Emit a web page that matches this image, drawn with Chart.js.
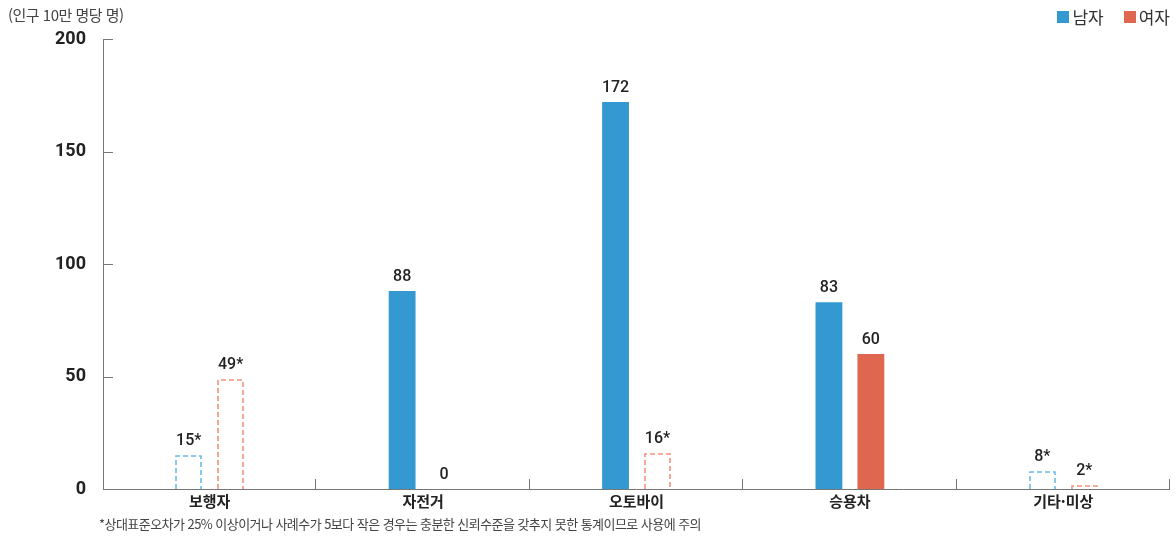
<!DOCTYPE html>
<html lang="ko">
<head>
<meta charset="utf-8">
<script src="https://cdn.jsdelivr.net/npm/chart.js@4/dist/chart.umd.min.js"></script>
<style>
  html, body { margin: 0; padding: 0; background: #fff; }
  body { width: 1176px; height: 536px; position: relative; overflow: hidden;
         font-family: "Noto Sans CJK KR", "Noto Sans", sans-serif; color: #333; }
  #wrap { position: absolute; left: 0; top: 0; width: 1176px; height: 536px; }
  .unit { position: absolute; left: 8px; top: 4px; font-size: 15px; color: #444; letter-spacing: -0.5px; }
  .legend { position: absolute; right: 6px; top: 4px; font-size: 17px; color: #333; display: flex; gap: 20px; }
  .legend span { display: inline-flex; align-items: center; }
  .legend i { display: inline-block; width: 12px; height: 12px; margin-right: 3px; }
  .note { position: absolute; left: 99px; top: 514px; font-size: 13px; color: #444; letter-spacing: -0.55px; }
</style>
</head>
<body>
<div id="wrap"><canvas id="myChart" width="1176" height="536"></canvas></div>
<div class="unit">(인구 10만 명당 명)</div>
<div class="legend">
  <span><i style="background:#3399d0"></i>남자</span>
  <span><i style="background:#e0674f"></i>여자</span>
</div>
<div class="note">*상대표준오차가 25% 이상이거나 사례수가 5보다 작은 경우는 충분한 신뢰수준을 갖추지 못한 통계이므로 사용에 주의</div>
<script>
// --- data ---
const categories = ['보행자', '자전거', '오토바이', '승용차', '기타·미상'];
const maleValues = [15, 88, 172, 83, 8];
const femaleValues = [49, 0, 16, 60, 2];
const maleLabels = ['15*', '88', '172', '83', '8*'];
const femaleLabels = ['49*', '0', '16*', '60', '2*'];
const yTicks = [0, 50, 100, 150, 200];

const BLUE = '#3399d0', RED = '#e0674f';
const BLUE_LIGHT = '#6bbbe8', RED_LIGHT = '#f0937f';

// starred values are drawn as dashed outlines only
const isStar = lbl => lbl.endsWith('*');

// dashed outlines + value labels + custom axis ticks
const decorPlugin = {
    id: 'decor',
    afterDatasetsDraw(chart) {
        const ctx = chart.ctx;
        const { left, right, bottom, top } = chart.chartArea;
        const y = chart.scales.y;

        ctx.save();
        chart.data.datasets.forEach((ds, di) => {
            const meta = chart.getDatasetMeta(di);
            meta.data.forEach((bar, i) => {
                const lbl = ds.valueLabels[i];
                const p = bar.getProps(['x', 'y', 'base', 'width'], true);
                if (isStar(lbl)) {
                    ctx.setLineDash([5, 3]);
                    ctx.lineWidth = 1.6;
                    ctx.strokeStyle = ds.dashColor;
                    const l = Math.round(p.x - p.width / 2) + 1;
                    const r = Math.round(p.x + p.width / 2) - 1;
                    const t = Math.round(p.y) + 1;
                    ctx.beginPath();
                    ctx.moveTo(l, p.base);
                    ctx.lineTo(l, t);
                    ctx.lineTo(r, t);
                    ctx.lineTo(r, p.base);
                    ctx.stroke();
                    ctx.setLineDash([]);
                }
                ctx.fillStyle = '#222';
                ctx.font = '500 16px Roboto, "Noto Sans", sans-serif';
                ctx.textAlign = 'center';
                ctx.textBaseline = 'bottom';
                ctx.fillText(lbl, p.x, p.y - 6);
            });
        });

        // axis lines
        ctx.strokeStyle = '#777';
        ctx.lineWidth = 1;
        ctx.beginPath();
        ctx.moveTo(left + 0.5, top);
        ctx.lineTo(left + 0.5, bottom + 0.5);
        ctx.lineTo(right, bottom + 0.5);
        ctx.stroke();

        // y ticks pointing into the plot
        ctx.beginPath();
        yTicks.forEach(v => {
            const py = Math.round(y.getPixelForValue(v)) + 0.5;
            ctx.moveTo(left, py);
            ctx.lineTo(left + 10, py);
        });
        // x ticks at category boundaries, pointing up
        const step = (right - left) / categories.length;
        for (let i = 1; i <= categories.length; i++) {
            const px = Math.round(left + step * i) - 0.5;
            ctx.moveTo(px, bottom);
            ctx.lineTo(px, bottom - 10);
        }
        ctx.stroke();
        ctx.restore();
    }
};

new Chart(document.getElementById('myChart'), {
    type: 'bar',
    data: {
        labels: categories,
        datasets: [
            {
                label: '남자',
                data: maleValues,
                valueLabels: maleLabels,
                dashColor: BLUE_LIGHT,
                backgroundColor: maleLabels.map(l => isStar(l) ? 'rgba(0,0,0,0)' : BLUE),
                borderWidth: 0,
                categoryPercentage: 0.393,
                barPercentage: 0.64
            },
            {
                label: '여자',
                data: femaleValues,
                valueLabels: femaleLabels,
                dashColor: RED_LIGHT,
                backgroundColor: femaleLabels.map(l => isStar(l) ? 'rgba(0,0,0,0)' : RED),
                borderWidth: 0,
                categoryPercentage: 0.393,
                barPercentage: 0.64
            }
        ]
    },
    options: {
        responsive: false,
        animation: false,
        layout: { padding: { top: 39, right: 6, bottom: 0, left: 0 } },
        scales: {
            x: {
                grid: { display: false, drawTicks: false },
                border: { display: false },
                ticks: {
                    color: '#222',
                    padding: 3,
                    font: { family: '"Noto Sans CJK KR", sans-serif', size: 15, weight: 'bold' }
                },
                afterFit(scale) { scale.height = 47; }
            },
            y: {
                min: 0,
                max: 200,
                afterBuildTicks(scale) { scale.ticks = yTicks.map(v => ({ value: v })); },
                grid: { display: false, drawTicks: false },
                border: { display: false },
                ticks: {
                    color: '#222',
                    padding: 17,
                    font: { family: 'Roboto, "Noto Sans", sans-serif', size: 18, weight: 'bold' }
                },
                afterFit(scale) { scale.width = 103; }
            }
        },
        plugins: {
            legend: { display: false },
            tooltip: { enabled: false }
        }
    },
    plugins: [decorPlugin]
});
</script>
</body>
</html>
